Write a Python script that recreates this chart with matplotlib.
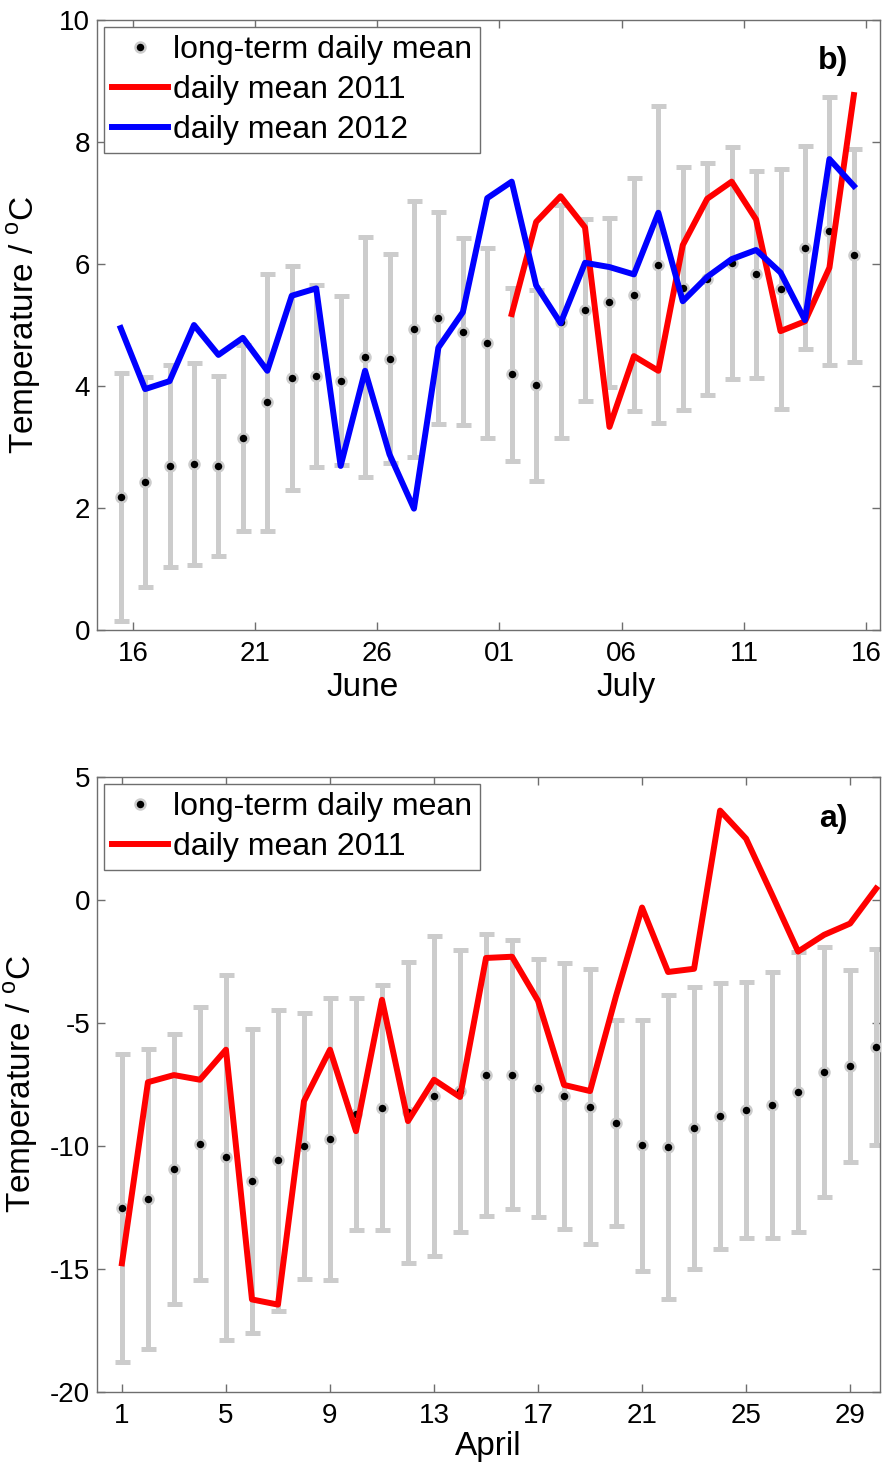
import numpy as np
import matplotlib
matplotlib.use("Agg")
import matplotlib.pyplot as plt
from matplotlib.lines import Line2D

plt.rcParams['font.family'] = ['Liberation Sans', 'DejaVu Sans']
plt.rcParams['mathtext.fontset'] = 'custom'
plt.rcParams['mathtext.rm'] = 'Liberation Sans'
plt.rcParams['axes.unicode_minus'] = False
plt.rcParams['font.size'] = 20

# ---- panel b: June/July (day number, June 1 = 1, July 1 = 31), values at noon
summer_days = np.arange(15.5, 46.5, 1.0)
summer_mean = [2.18, 2.43, 2.69, 2.72, 2.69, 3.15, 3.73, 4.13, 4.16, 4.09, 4.48,
               4.45, 4.94, 5.12, 4.89, 4.71, 4.19, 4.01, 5.05, 5.24, 5.37, 5.50,
               5.99, 5.60, 5.76, 6.02, 5.83, 5.59, 6.27, 6.54, 6.14]
summer_std = [2.03, 1.72, 1.65, 1.66, 1.47, 1.53, 2.10, 1.83, 1.49, 1.39, 1.97,
              1.71, 2.10, 1.74, 1.53, 1.56, 1.42, 1.57, 1.91, 1.49, 1.39, 1.91,
              2.60, 1.99, 1.90, 1.90, 1.70, 1.97, 1.67, 2.19, 1.74]
summer_2012 = [4.95, 3.95, 4.08, 5.00, 4.51, 4.79, 4.25, 5.48, 5.60, 2.69, 4.25,
               2.88, 1.99, 4.63, 5.21, 7.08, 7.35, 5.65, 5.03, 6.02, 5.95, 5.83,
               6.84, 5.39, 5.79, 6.08, 6.23, 5.86, 5.08, 7.72, 7.28]
# 2011 record starts on July 1
summer_2011 = [np.nan] * 16 + [5.18, 6.69, 7.11, 6.60, 3.33, 4.49, 4.25, 6.31,
                               7.07, 7.35, 6.73, 4.90, 5.06, 5.94, 8.77]
summer_ticks = [16, 21, 26, 31, 36, 41, 46]
summer_ticklabels = ['16', '21', '26', '01', '06', '11', '16']

# ---- panel a: April
april_days = np.arange(1, 31)
april_mean = [-12.52, -12.17, -10.94, -9.92, -10.46, -11.43, -10.59, -10.00, -9.72,
              -8.71, -8.45, -8.63, -7.96, -7.75, -7.12, -7.10, -7.65, -7.96, -8.40,
              -9.08, -9.97, -10.05, -9.27, -8.78, -8.54, -8.34, -7.80, -6.99, -6.74,
              -5.98]
april_std = [6.27, 6.10, 5.47, 5.55, 7.41, 6.19, 6.10, 5.40, 5.75, 4.72, 4.98, 6.11,
             6.51, 5.73, 5.74, 5.46, 5.25, 5.41, 5.58, 4.19, 5.10, 6.19, 5.72, 5.42,
             5.20, 5.42, 5.68, 5.08, 3.90, 4.00]
april_2011 = [-14.77, -7.41, -7.12, -7.31, -6.09, -16.24, -16.45, -8.18, -6.09, -9.40,
              -4.06, -8.99, -7.31, -8.01, -2.36, -2.31, -4.10, -7.52, -7.77, -3.90,
              -0.31, -2.93, -2.80, 3.63, 2.49, 0.21, -2.10, -1.42, -0.96, 0.46]
april_ticks = [1, 5, 9, 13, 17, 21, 25, 29]

GREY = '#cccccc'
SPINE = '#6e6e6e'
LABEL_FS = 24
LEGEND_FS = 23


def mean_with_bars(ax, x, mean, std):
    ax.errorbar(x, mean, yerr=std, fmt='none', ecolor=GREY, elinewidth=3.6,
                capsize=5.4, capthick=3.6, zorder=2)
    ax.plot(x, mean, 'o', color='black', markersize=7.2, markeredgecolor=GREY,
            markeredgewidth=1.8, zorder=3)


def style_axes(ax):
    for s in ax.spines.values():
        s.set_color(SPINE)
        s.set_linewidth(1.0)
    ax.tick_params(direction='in', top=True, right=True, length=6, width=1.0,
                   color=SPINE, labelsize=20)
    ax.tick_params(axis='x', pad=8)
    ax.tick_params(axis='y', pad=5)


def add_legend(ax, handles, labels):
    leg = ax.legend(handles, labels, loc='upper left', borderaxespad=0.22,
                    fancybox=False, framealpha=1, edgecolor=SPINE,
                    handlelength=1.75, handletextpad=0.15, labelspacing=0.32,
                    borderpad=0.25, fontsize=LEGEND_FS)
    leg.get_frame().set_linewidth(1.0)


fig = plt.figure(figsize=(8.88, 14.7), dpi=100)

mean_handle = Line2D([], [], ls='none', marker='o', color='black', markersize=7.2,
                     markeredgecolor=GREY, markeredgewidth=1.8)
red_handle = Line2D([], [], color='#ff0000', lw=4.3)
blue_handle = Line2D([], [], color='#0000ff', lw=4.3)

# top panel (b)
ax_b = fig.add_axes([0.1092, 0.5714, 0.8818, 0.415])
mean_with_bars(ax_b, summer_days, summer_mean, summer_std)
ax_b.plot(summer_days, summer_2011, color='#ff0000', lw=4.3, zorder=4)
ax_b.plot(summer_days, summer_2012, color='#0000ff', lw=4.3, zorder=4)
ax_b.set_xlim(14.53, 46.57)
ax_b.set_ylim(0, 10)
ax_b.set_xticks(summer_ticks)
ax_b.set_xticklabels(summer_ticklabels)
ax_b.set_yticks([0, 2, 4, 6, 8, 10])
style_axes(ax_b)
ax_b.set_ylabel(r'Temperature / $^{\mathrm{o}}$C', fontsize=LABEL_FS)
ax_b.yaxis.set_label_coords(-0.069, 0.5)
ax_b.text(25.4, -0.095, 'June', transform=ax_b.get_xaxis_transform(),
          ha='center', va='center', fontsize=LABEL_FS)
ax_b.text(36.2, -0.095, 'July', transform=ax_b.get_xaxis_transform(),
          ha='center', va='center', fontsize=LABEL_FS)
ax_b.text(0.94, 0.932, 'b)', transform=ax_b.transAxes, ha='center', va='center',
          fontsize=23, fontweight='bold')
add_legend(ax_b, [mean_handle, red_handle, blue_handle],
           ['long-term daily mean', 'daily mean 2011', 'daily mean 2012'])

# bottom panel (a)
ax_a = fig.add_axes([0.1092, 0.0531, 0.8818, 0.4184])
mean_with_bars(ax_a, april_days, april_mean, april_std)
ax_a.plot(april_days, april_2011, color='#ff0000', lw=4.3, zorder=4)
ax_a.set_xlim(0.04, 30.15)
ax_a.set_ylim(-20, 5)
ax_a.set_xticks(april_ticks)
ax_a.set_yticks([-20, -15, -10, -5, 0, 5])
style_axes(ax_a)
ax_a.set_ylabel(r'Temperature / $^{\mathrm{o}}$C', fontsize=LABEL_FS)
ax_a.yaxis.set_label_coords(-0.073, 0.5)
ax_a.text(15.1, -0.089, 'April', transform=ax_a.get_xaxis_transform(),
          ha='center', va='center', fontsize=LABEL_FS)
ax_a.text(0.94, 0.931, 'a)', transform=ax_a.transAxes, ha='center', va='center',
          fontsize=23, fontweight='bold')
add_legend(ax_a, [mean_handle, red_handle],
           ['long-term daily mean', 'daily mean 2011'])

fig.savefig('out.png', dpi=100)
